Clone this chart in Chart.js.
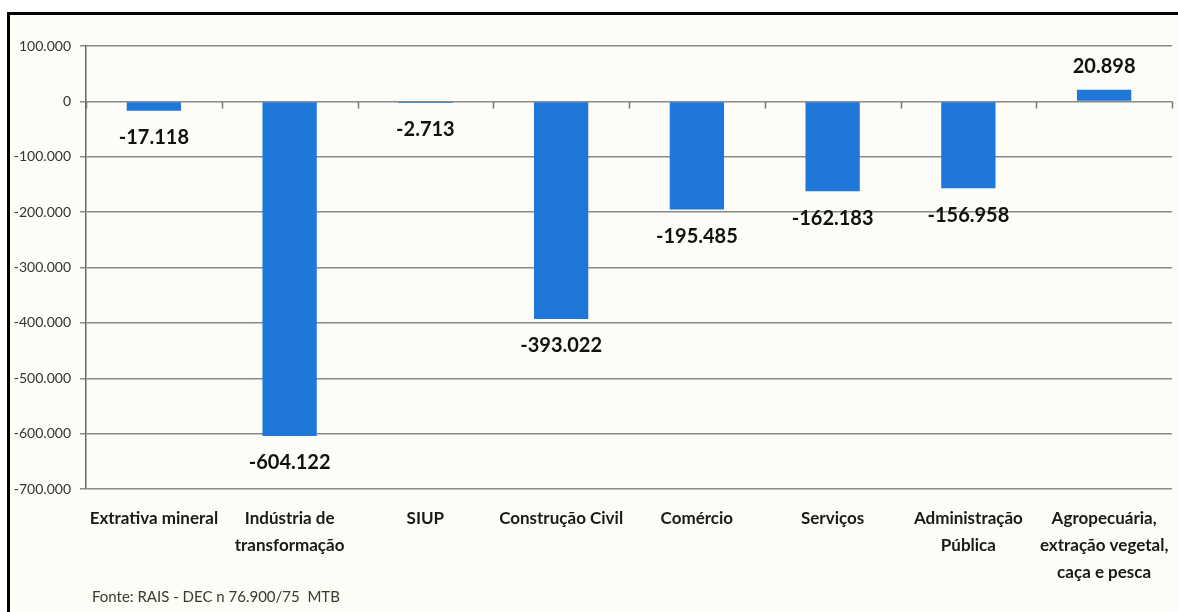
<!DOCTYPE html>
<html>
<head>
<meta charset="utf-8">
<script src="https://cdn.jsdelivr.net/npm/chart.js@4/dist/chart.umd.min.js"></script>
<style>
  html, body { margin: 0; padding: 0; background: #ffffff; }
  #wrap { width: 1178px; height: 612px; position: relative; }
</style>
</head>
<body>
<div id="wrap"><canvas id="c" width="1178" height="612"></canvas></div>
<script>
const categories = [
  'Extrativa mineral',
  ['Indústria de', 'transformação'],
  'SIUP',
  'Construção Civil',
  'Comércio',
  'Serviços',
  ['Administração', 'Pública'],
  ['Agropecuária,', 'extração vegetal,', 'caça e pesca']
];
const values = [-17118, -604122, -2713, -393022, -195485, -162183, -156958, 20898];
const valueLabels = ['-17.118', '-604.122', '-2.713', '-393.022', '-195.485', '-162.183', '-156.958', '20.898'];
const yMin = -700000, yMax = 100000, yStep = 100000;
const sourceNote = 'Fonte: RAIS - DEC n 76.900/75  MTB';

function fmt(v) {
  const neg = v < 0;
  let s = String(Math.abs(Math.round(v)));
  s = s.replace(/\B(?=(\d{3})+(?!\d))/g, '.');
  return (neg ? '-' : '') + s;
}

const framePlugin = {
  id: 'frame',
  beforeDraw(chart) {
    const ctx = chart.ctx;
    ctx.save();
    ctx.fillStyle = '#fdfcf6';
    ctx.fillRect(0, 0, chart.width, chart.height);
    ctx.fillStyle = '#ffffff';
    ctx.fillRect(0, 0, chart.width, 12);
    ctx.fillRect(0, 0, 7, chart.height);
    ctx.strokeStyle = '#000000';
    ctx.lineWidth = 3;
    ctx.beginPath();
    ctx.moveTo(8.5, chart.height);
    ctx.lineTo(8.5, 13.5);
    ctx.lineTo(chart.width, 13.5);
    ctx.stroke();
    ctx.restore();
  },
  afterDraw(chart) {
    const ctx = chart.ctx;
    const xs = chart.scales.x, ys = chart.scales.y;
    const y0 = ys.getPixelForValue(0);
    const n = categories.length;
    const cw = (xs.right - xs.left) / n;
    ctx.save();
    ctx.strokeStyle = '#777777';
    ctx.lineWidth = 1.5;
    ctx.beginPath();
    for (let i = 0; i <= n; i++) {
      const x = Math.round(xs.left + i * cw) + 0.5;
      ctx.moveTo(x, y0);
      ctx.lineTo(x, y0 + 7);
    }
    ctx.stroke();
    const meta = chart.getDatasetMeta(0);
    ctx.fillStyle = '#111111';
    ctx.font = 'bold 20px Lato';
    ctx.textAlign = 'center';
    ctx.textBaseline = 'middle';
    meta.data.forEach((bar, i) => {
      const v = values[i];
      const y = v < 0 ? bar.y + 27 : bar.y - 23;
      ctx.fillText(valueLabels[i], bar.x, y);
    });
    ctx.fillStyle = '#3a3a2e';
    ctx.font = '15px Lato';
    ctx.textAlign = 'left';
    ctx.fillText(sourceNote, 92, 597);
    ctx.restore();
  }
};

new Chart(document.getElementById('c'), {
  type: 'bar',
  data: {
    labels: categories,
    datasets: [{
      data: values,
      backgroundColor: '#1f77da',
      borderWidth: 0,
      barPercentage: 0.4,
      categoryPercentage: 1.0
    }]
  },
  options: {
    responsive: false,
    animation: false,
    layout: { padding: { left: 0, right: 6, top: 46, bottom: 0 } },
    plugins: { legend: { display: false }, tooltip: { enabled: false }, title: { display: false } },
    scales: {
      x: {
        grid: { display: false },
        border: { display: false },
        ticks: {
          font: { family: 'Lato', weight: 'bold', size: 17, lineHeight: 1.59 },
          color: '#1a1a1a',
          padding: 8,
          maxRotation: 0,
          autoSkip: false
        },
        afterFit(scale) { scale.height = 123; }
      },
      y: {
        min: yMin,
        max: yMax,
        ticks: {
          stepSize: yStep,
          font: { family: 'Lato', size: 14 },
          color: '#333333',
          padding: 9,
          callback: (v) => fmt(v)
        },
        grid: { color: '#8a8a8a', lineWidth: 1.5, tickLength: 6, tickColor: '#8a8a8a' },
        border: { display: true, color: '#666666', width: 1.5 },
        afterFit(scale) { scale.width = 86; }
      }
    }
  },
  plugins: [framePlugin]
});
</script>
</body>
</html>
